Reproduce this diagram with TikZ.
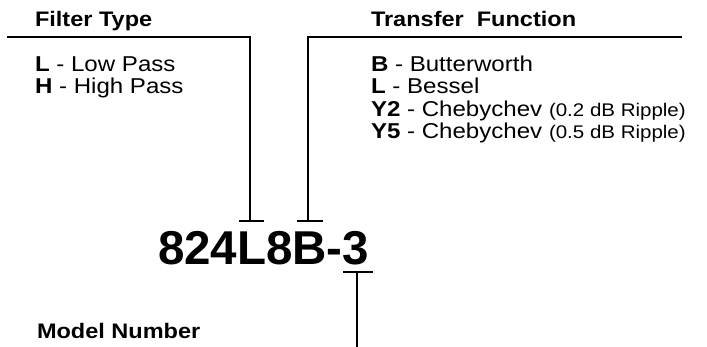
\documentclass[tikz,border=0pt]{standalone}
\usepackage{graphicx}
\usepackage{fontspec}
\setmainfont{Liberation Sans}
\newcommand{\headfont}{\fontsize{21}{24}\selectfont\bfseries}
\newcommand{\itemfont}{\fontsize{21.5}{24}\selectfont}
\newcommand{\smallfont}{\fontsize{18.3}{21}\selectfont}
\newcommand{\bigfont}{\fontsize{47.5}{56}\selectfont\bfseries}
\newcommand{\hs}[1]{\scalebox{1.12}[1]{#1}}
\begin{document}
\begin{tikzpicture}[x=1pt,y=-1pt,
  lbl/.style={anchor=base west,inner sep=0pt,outer sep=0pt},
  leader/.style={line width=2pt,line join=miter,line cap=butt},
  tbar/.style={line width=2pt,line cap=butt}]
\useasboundingbox (0,0) rectangle (707,347);
% headings
\node[lbl,font=\headfont] (ft) at (35,27) {\hs{Filter Type}};
\node[lbl,font=\headfont] (tf) at (371,27) {\hs{Transfer\ \ Function}};
\node[lbl,font=\headfont] (mn) at (37,338.5) {\hs{Model Number}};
% filter type items
\node[lbl,font=\itemfont] (lp) at (35,71.5) {\hs{\textbf{L} - Low Pass}};
\node[lbl,font=\itemfont] (hp) at (35,94) {\hs{\textbf{H} - High Pass}};
% transfer function items
\node[lbl,font=\itemfont] (bw) at (371,71.5) {\hs{\textbf{B} - Butterworth}};
\node[lbl,font=\itemfont] (bs) at (371,94) {\hs{\textbf{L} - Bessel}};
\node[lbl,font=\itemfont] (y2) at (371,116.5) {\hs{\textbf{Y2} - Chebychev {\smallfont(0.2 dB Ripple)}}};
\node[lbl,font=\itemfont] (y5) at (371,139) {\hs{\textbf{Y5} - Chebychev {\smallfont(0.5 dB Ripple)}}};
% model code
\node[lbl,font=\bigfont] (code) at (158,265) {824L8B-3};
% leader geometry
\coordinate (ftl) at (7,37);
\coordinate (ftc) at (250,37);
\coordinate (ftt) at (250,221);
\coordinate (ftb1) at (239,221);
\coordinate (ftb2) at (264,221);
\coordinate (tfr) at (682,37);
\coordinate (tfc) at (308,37);
\coordinate (tft) at (308,221);
\coordinate (tfb1) at (297,221);
\coordinate (tfb2) at (323,221);
\coordinate (mnt) at (357,272);
\coordinate (mnb) at (357,347);
\coordinate (mnb1) at (343,272);
\coordinate (mnb2) at (373,272);
\draw[leader] (ftl) -- (ftc) -- (ftt);
\draw[tbar] (ftb1) -- (ftb2);
\draw[leader] (tfr) -- (tfc) -- (tft);
\draw[tbar] (tfb1) -- (tfb2);
\draw[leader] (mnt) -- (mnb);
\draw[tbar] (mnb1) -- (mnb2);
\end{tikzpicture}
\end{document}
